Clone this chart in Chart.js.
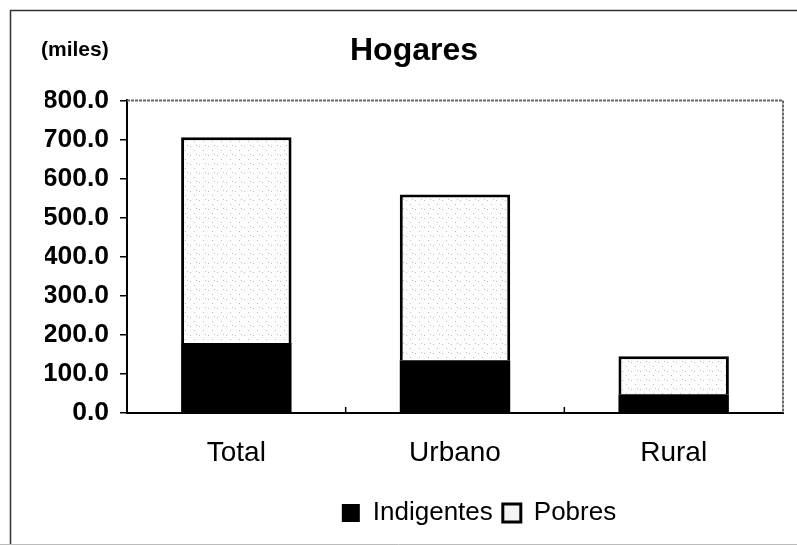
<!DOCTYPE html>
<html><head><meta charset="utf-8">
<script src="https://cdn.jsdelivr.net/npm/chart.js@4"></script>
<style>html,body{margin:0;padding:0;background:#fff}#wrap{width:797px;height:545px}</style>
</head><body><div id="wrap"><canvas id="c" width="797" height="545"></canvas></div>
<script>
const categories = ["Total", "Urbano", "Rural"];
const indigentes = [179, 135, 48];
const pobres = [527, 424, 97];
const seriesNames = ["Indigentes", "Pobres"];
const titleText = "Hogares";
const unitText = "(miles)";

// stipple pattern for "Pobres"
const pc = document.createElement('canvas');
pc.width = 9; pc.height = 9;
const px = pc.getContext('2d');
px.fillStyle = '#fdfdfd'; px.fillRect(0,0,9,9);
px.fillStyle = '#bdbdbd';
[[1,2],[5,6],[7,1]].forEach(p=>px.fillRect(p[0],p[1],1,1));

const F = '"Liberation Sans", Arial, sans-serif';

const framePlugin = {
  id: 'frame',
  afterLayout(chart) {
    const l = chart.legend;
    if (l) { l.left += 65; l.right += 65; }
  },
  beforeDraw(chart) {
    const ctx = chart.ctx;
    ctx.save();
    ctx.fillStyle = '#fff';
    ctx.fillRect(0,0,chart.width,chart.height);
    ctx.strokeStyle = '#333';
    ctx.lineWidth = 1.5;
    ctx.beginPath();
    ctx.moveTo(10.5, 545); ctx.lineTo(10.5, 10.5); ctx.lineTo(797, 10.5);
    ctx.stroke();
    ctx.strokeStyle = '#bbb';
    ctx.lineWidth = 1;
    ctx.beginPath(); ctx.moveTo(0, 544.5); ctx.lineTo(797, 544.5); ctx.stroke();
    ctx.fillStyle = '#000';
    ctx.font = 'bold 21px ' + F;
    ctx.textBaseline = 'middle';
    ctx.fillText(unitText, 41, 50);
    ctx.restore();
  },
  afterDatasetsDraw(chart) {
    const ctx = chart.ctx, a = chart.chartArea;
    ctx.save();
    ctx.strokeStyle = '#666';
    ctx.lineWidth = 2;
    ctx.setLineDash([3,1]);
    ctx.beginPath();
    ctx.moveTo(a.left, a.top); ctx.lineTo(a.right, a.top); ctx.lineTo(a.right, a.bottom);
    ctx.stroke();
    ctx.setLineDash([]);
    const xs = chart.scales.x;
    ctx.strokeStyle = '#000'; ctx.lineWidth = 1.5;
    for (let i = 0; i < categories.length - 1; i++) {
      const m = (xs.getPixelForValue(i) + xs.getPixelForValue(i+1)) / 2;
      ctx.beginPath(); ctx.moveTo(m, a.bottom); ctx.lineTo(m, a.bottom - 6); ctx.stroke();
    }
    ctx.restore();
  }
};

const ctx = document.getElementById('c').getContext('2d');
const pattern = ctx.createPattern(pc, 'repeat');

new Chart(ctx, {
  type: 'bar',
  data: {
    labels: categories,
    datasets: [
      { label: seriesNames[0], data: indigentes, backgroundColor: '#000', borderColor: '#000', borderWidth: 0 },
      { label: seriesNames[1], data: pobres, backgroundColor: pattern, borderColor: '#000', borderWidth: {top:3,left:3,right:3,bottom:0}, borderSkipped: 'bottom' }
    ]
  },
  plugins: [framePlugin],
  options: {
    responsive: false,
    animation: false,
    devicePixelRatio: 1,
    layout: { padding: { left: 45, right: 14, top: 32, bottom: 9 } },
    datasets: { bar: { categoryPercentage: 1.0, barPercentage: 0.505 } },
    plugins: {
      title: { display: true, text: titleText, color: '#000', font: { family: F, size: 32, weight: 'bold' }, padding: { top: 0, bottom: 30 } },
      legend: {
        position: 'bottom',
        labels: { color: '#000', font: { family: F, size: 26 }, boxWidth: 18, boxHeight: 18, padding: 10,
          generateLabels(chart) {
            return chart.data.datasets.map((d, i) => ({
              text: d.label, fillStyle: i === 0 ? '#000' : '#f4f4f4', strokeStyle: '#000', lineWidth: i === 0 ? 0 : 3,
              hidden: false, datasetIndex: i, fontColor: '#000'
            }));
          }
        }
      },
      tooltip: { enabled: false }
    },
    scales: {
      x: {
        stacked: true,
        grid: { display: false },
        border: { display: true, color: '#000', width: 2 },
        ticks: { color: '#000', font: { family: F, size: 28 }, padding: 15 },
        afterFit(s) { s.height = 77; }
      },
      y: {
        stacked: true,
        min: 0, max: 800,
        grid: { display: true, drawOnChartArea: false, drawTicks: true, tickLength: 7, color: '#000', lineWidth: 1.5 },
        border: { display: true, color: '#000', width: 2 },
        ticks: { stepSize: 100, color: '#000', font: { family: F, size: 26.5, weight: 'bold' }, padding: 11,
          callback: v => Number(v).toFixed(1) },
        afterFit(s) { s.width = 82; }
      }
    }
  }
});
</script>
</body></html>
